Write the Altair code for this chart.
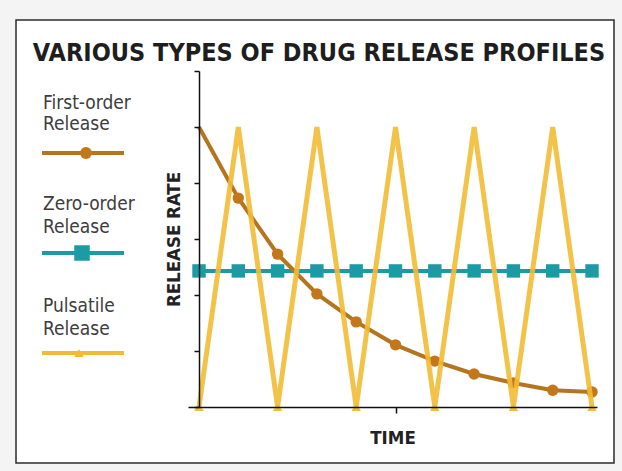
import altair as alt
import pandas as pd

# Time steps and the three release profiles (arbitrary units)
time_steps = [0, 1, 2, 3, 4, 5, 6, 7, 8, 9, 10]
first_order = [5.0, 3.73, 2.73, 2.02, 1.52, 1.11, 0.82, 0.59, 0.43, 0.30, 0.27]
zero_order = [2.43, 2.43, 2.43, 2.43, 2.43, 2.43, 2.43, 2.43, 2.43, 2.43, 2.43]
pulsatile = [0, 5, 0, 5, 0, 5, 0, 5, 0, 5, 0]

title_text = "VARIOUS TYPES OF DRUG RELEASE PROFILES"
legend_lines = [["First-order", "Release"], ["Zero-order", "Release"], ["Pulsatile", "Release"]]

BROWN = "#b5741f"
BROWN_DOT = "#c4771a"
TEAL = "#1b9ba3"
GOLD = "#f2bb35"
NARROW = "DejaVu Sans Condensed, Liberation Sans Narrow, sans-serif"

W, H = 409, 336

df = pd.DataFrame({
    "t": time_steps,
    "first": first_order,
    "zero": zero_order,
    "pulse": pulsatile,
})

x_scale = alt.Scale(domain=[-0.28, 10.127], nice=False, zero=False)
y_scale = alt.Scale(domain=[0, 6], nice=False)

x_enc = alt.X("t:Q", scale=x_scale, axis=alt.Axis(
    values=[5], labels=False, grid=False, tickSize=6, tickColor="#111",
    domainColor="#111", domainWidth=1.5, tickWidth=1.5, zindex=1,
    title="TIME", titleFont=NARROW, titleFontSize=18.5, titleFontWeight="bold",
    titleColor="#222", titlePadding=15))

y_enc = alt.Y("zero:Q", scale=y_scale, axis=alt.Axis(
    values=[0, 1, 2, 3, 4, 5, 6], labels=False, grid=False, tickSize=5,
    tickColor="#111", tickWidth=1.5, domainColor="#111", domainWidth=1.5,
    offset=-11, zindex=1, title="RELEASE RATE", titleFont=NARROW,
    titleFontSize=18.5, titleFontWeight="bold", titleColor="#222", titlePadding=10))

base = alt.Chart(df)

# box frame behind everything
frame = alt.Chart(pd.DataFrame({"k": [0]})).mark_rect(
    fill="white", stroke="#2b2b2b", strokeWidth=1.5
).encode(x=alt.value(-172), x2=alt.value(426), y=alt.value(-51), y2=alt.value(392))

zero_line = base.mark_line(color=TEAL, strokeWidth=4).encode(x=x_enc, y=y_enc)
zero_pts = base.mark_point(shape="square", filled=True, opacity=1, color=TEAL, size=180).encode(
    x="t:Q", y="zero:Q")

first_line = base.mark_line(color=BROWN, strokeWidth=4).encode(x="t:Q", y="first:Q")
first_pts = base.transform_filter("datum.t > 0").mark_point(
    shape="circle", filled=True, opacity=1, color=BROWN_DOT, size=130).encode(x="t:Q", y="first:Q")

pulse_line = base.mark_line(color=GOLD, strokeWidth=5, opacity=0.9).encode(x="t:Q", y="pulse:Q")
pulse_pts = base.transform_filter("datum.pulse == 0").mark_point(
    shape="triangle-up", filled=True, opacity=0.95, color=GOLD, size=90).encode(x="t:Q", y="pulse:Q")

dummy = pd.DataFrame({"k": [0]})

title = alt.Chart(dummy).mark_text(
    text=title_text, font=NARROW, fontSize=25, fontWeight="bold", color="#1e1e1e",
    align="center", baseline="alphabetic"
).encode(x=alt.value(131), y=alt.value(-10))

# hand-drawn legend at the left of the plot
legend_layers = []
text_rows = [(38, 59), (139, 162), (241, 264)]
sample_y = [82, 182, 282]
marker_x = [-102, -106, -109]
styles = [
    (BROWN, BROWN_DOT, "circle", 140, 4),
    (TEAL, TEAL, "square", 240, 4),
    (GOLD, GOLD, "triangle-up", 90, 4),
]
for (l1, l2), (y1, y2), ly, mx, (lc, pc, shp, sz, sw) in zip(legend_lines, text_rows, sample_y, marker_x, styles):
    for txt, yy in ((l1, y1), (l2, y2)):
        legend_layers.append(alt.Chart(dummy).mark_text(
            text=txt, font=NARROW, fontSize=19, color="#3d3d3d", align="left",
            baseline="alphabetic").encode(x=alt.value(-145), y=alt.value(yy)))
    legend_layers.append(alt.Chart(dummy).mark_rule(color=lc, strokeWidth=sw).encode(
        x=alt.value(-146), x2=alt.value(-64), y=alt.value(ly)))
    legend_layers.append(alt.Chart(dummy).mark_point(
        shape=shp, filled=True, opacity=1, color=pc, size=sz).encode(
        x=alt.value(mx), y=alt.value(ly)))

chart = alt.layer(
    frame, zero_line, zero_pts, first_line, first_pts, pulse_line, pulse_pts, title,
    *legend_layers
).properties(
    width=W, height=H,
    autosize=alt.AutoSizeParams(type="none"),
    padding={"left": 188, "top": 71, "right": 25, "bottom": 64},
    background="#f4f4f4",
).configure_view(stroke=None)

chart.save("out.html", embed_options={"renderer": "svg", "actions": False})
